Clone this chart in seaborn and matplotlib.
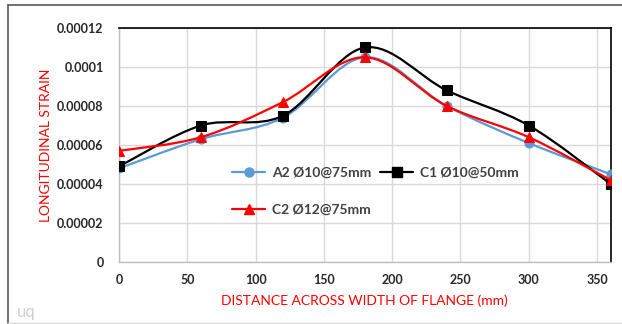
import numpy as np
import pandas as pd
import matplotlib
matplotlib.use("Agg")
import matplotlib.pyplot as plt
import seaborn as sns
from matplotlib.path import Path
from matplotlib.patches import PathPatch
from matplotlib.lines import Line2D

# ---- data ----
distance = [0, 60, 120, 180, 240, 300, 360]
a2_strain = [4.8e-5, 6.3e-5, 7.4e-5, 1.05e-4, 8.0e-5, 6.1e-5, 4.5e-5]
c1_strain = [4.9e-5, 7.0e-5, 7.5e-5, 1.10e-4, 8.8e-5, 7.0e-5, 4.0e-5]
c2_strain = [5.7e-5, 6.4e-5, 8.2e-5, 1.05e-4, 8.0e-5, 6.4e-5, 4.2e-5]
series_names = ["A2 Ø10@75mm", "C1 Ø10@50mm", "C2 Ø12@75mm"]
x_ticks = [0, 50, 100, 150, 200, 250, 300, 350]
y_ticks = [0, 0.00002, 0.00004, 0.00006, 0.00008, 0.0001, 0.00012]
y_tick_labels = ["0", "0.00002", "0.00004", "0.00006", "0.00008", "0.0001", "0.00012"]
x_label = "DISTANCE ACROSS WIDTH OF FLANGE (mm)"
y_label = "LONGITUDINAL STRAIN"

colors = ["#5B9BD5", "#000000", "#FF0000"]
markers = ["o", "s", "^"]
msizes = [6.5, 6.5, 7.5]

sns.set_theme(style="white")
plt.rcParams["font.family"] = ["Lato", "DejaVu Sans"]

fig = plt.figure(figsize=(6.22, 3.24), dpi=100)
W, H = 622, 324
ax = fig.add_axes([119 / W, 1 - 262 / H, (610.7 - 119) / W, (262 - 28) / H])

df = pd.concat([
    pd.DataFrame({"distance": distance, "strain": s, "series": n})
    for s, n in zip([a2_strain, c1_strain, c2_strain], series_names)
])


def smooth_path(x, y):
    P = np.column_stack([x, y]).astype(float)
    ext = np.vstack([P[0], P, P[-1]])
    verts = [P[0]]
    codes = [Path.MOVETO]
    for i in range(len(P) - 1):
        p0, p1, p2, p3 = ext[i], ext[i + 1], ext[i + 2], ext[i + 3]
        verts += [p1 + (p2 - p0) / 6, p2 - (p3 - p1) / 6, p2]
        codes += [Path.CURVE4] * 3
    return Path(verts, codes)


for k, name in enumerate(series_names):
    sub = df[df.series == name]
    patch = PathPatch(smooth_path(sub.distance, sub.strain), facecolor="none",
                      edgecolor=colors[k], lw=1.6, zorder=3 + 2 * k,
                      capstyle="round", joinstyle="round")
    ax.add_patch(patch)
    sns.lineplot(data=sub, x="distance", y="strain", ax=ax, linestyle="",
                 marker=markers[k], markersize=msizes[k], color=colors[k],
                 markeredgecolor=colors[k], zorder=4 + 2 * k, legend=False)

ax.set_xlim(0, 360)
ax.set_ylim(0, 0.00012)
ax.set_xticks(x_ticks)
ax.set_yticks(y_ticks)
ax.set_xticklabels([str(v) for v in x_ticks], fontsize=9, fontweight="bold", color="#262626")
ax.set_yticklabels(y_tick_labels, fontsize=9, fontweight="bold", color="#262626")
ax.tick_params(axis="both", length=0)
ax.tick_params(axis="x", pad=9)
ax.tick_params(axis="y", pad=11)
ax.grid(True, color="#d9d9d9", lw=1)
ax.set_axisbelow(True)
for s in ["left", "bottom"]:
    ax.spines[s].set_color("#bfbfbf")
    ax.spines[s].set_linewidth(1)
for s in ["top", "right"]:
    ax.spines[s].set_color("#000000")
    ax.spines[s].set_linewidth(1.2)

ax.set_xlabel(x_label, color="#FF0000", fontsize=10, labelpad=6)
ax.set_ylabel(y_label, color="#FF0000", fontsize=10, labelpad=4)

handles = [Line2D([], [], color=colors[k], lw=1.6, marker=markers[k],
                  markersize=msizes[k], markeredgecolor=colors[k]) for k in range(3)]
order = [0, 2, 1]
leg = ax.legend([handles[i] for i in order], [series_names[i] for i in order],
                ncol=2, loc="upper left", bbox_to_anchor=(0.23, 0.408),
                frameon=False, borderpad=0, borderaxespad=0,
                handlelength=2.4, handletextpad=0.5, columnspacing=0.6,
                labelspacing=1.85, prop={"family": ["Lato", "DejaVu Sans"],
                                         "weight": "bold", "size": 10})
for t in leg.get_texts():
    t.set_color("#404040")

# outer chart frame
fig.add_artist(Line2D([8 / W, 1], [1 - 5 / H, 1 - 5 / H], transform=fig.transFigure,
                      color="#595959", lw=1.2))
fig.add_artist(Line2D([8 / W, 8 / W], [1 - 5 / H, 1 - 323 / H], transform=fig.transFigure,
                      color="#595959", lw=1.2))
fig.add_artist(Line2D([8 / W, 1], [1 - 322.5 / H, 1 - 322.5 / H], transform=fig.transFigure,
                      color="#d9d9d9", lw=1))
fig.text(17 / W, 1 - 312 / H, "uq", fontsize=12, color="#d0d0d0", va="center", ha="left")

fig.savefig("out.png", dpi=100)
